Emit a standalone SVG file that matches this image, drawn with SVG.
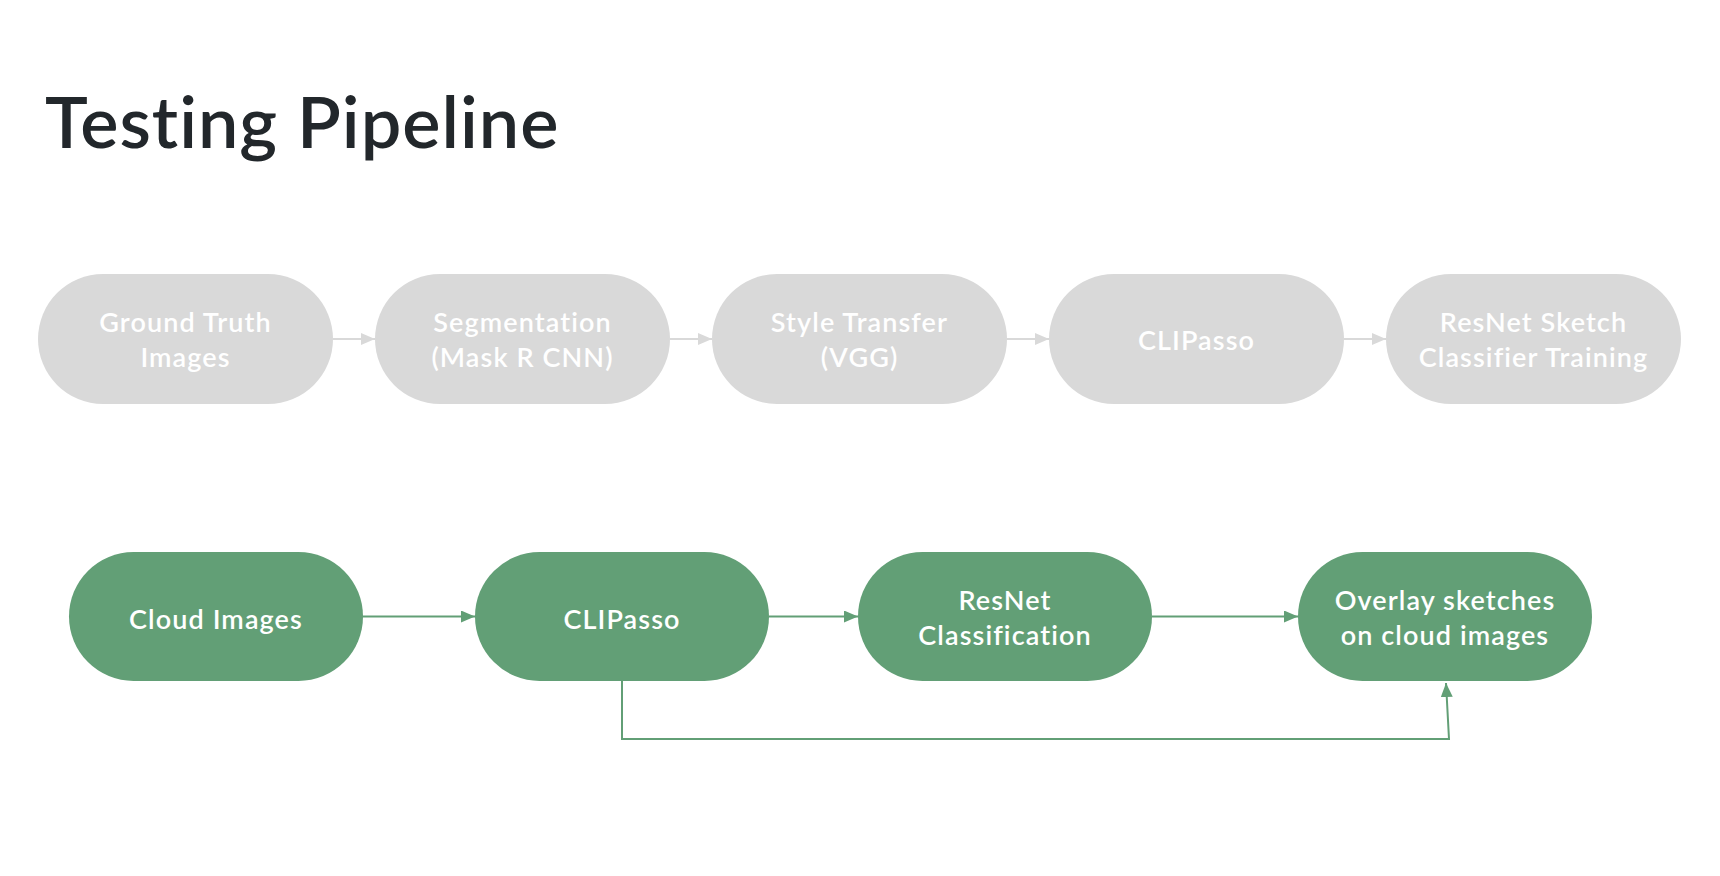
<svg xmlns="http://www.w3.org/2000/svg" width="1720" height="876" viewBox="0 0 1720 876">
<defs>
<style>
.title{font-family:Lato,"Open Sans","Liberation Sans",sans-serif;font-weight:600;font-size:72px;letter-spacing:1px;fill:#22272b;font-variant-ligatures:none}
.gnode rect{fill:#d9d9d9}
.pnode rect{fill:#629f76}
.lbl{font-family:Lato,"Open Sans","Liberation Sans",sans-serif;font-weight:600;font-size:27px;letter-spacing:1.1px;fill:#ffffff;text-anchor:middle;font-variant-ligatures:none}
.gc{stroke:#d9d9d9;stroke-width:2;fill:none}
.pc{stroke:#629f76;stroke-width:2;fill:none}
</style>
<marker id="ag" viewBox="0 0 10 10" refX="10" refY="5" markerWidth="14" markerHeight="12" markerUnits="userSpaceOnUse" orient="auto" preserveAspectRatio="none"><path d="M0,0 L10,5 L0,10 z" fill="#d9d9d9"/></marker>
<marker id="ap" viewBox="0 0 10 10" refX="10" refY="5" markerWidth="14" markerHeight="12" markerUnits="userSpaceOnUse" orient="auto" preserveAspectRatio="none"><path d="M0,0 L10,5 L0,10 z" fill="#629f76"/></marker>
</defs>
<rect width="1720" height="876" fill="#ffffff"/>
<text class="title" x="45" y="148">Testing Pipeline</text>

<g id="connectors">
<line class="gc" x1="333" y1="339" x2="375" y2="339" marker-end="url(#ag)"/>
<line class="gc" x1="670" y1="339" x2="712" y2="339" marker-end="url(#ag)"/>
<line class="gc" x1="1007" y1="339" x2="1049" y2="339" marker-end="url(#ag)"/>
<line class="gc" x1="1344" y1="339" x2="1386" y2="339" marker-end="url(#ag)"/>
<line class="pc" x1="363" y1="616.5" x2="475" y2="616.5" marker-end="url(#ap)"/>
<line class="pc" x1="769" y1="616.5" x2="858" y2="616.5" marker-end="url(#ap)"/>
<line class="pc" x1="1152" y1="616.5" x2="1298" y2="616.5" marker-end="url(#ap)"/>
<polyline class="pc" points="622,681 622,739 1449,739 1446,683" marker-end="url(#ap)"/>
</g>

<g id="n1" class="gnode"><rect x="38" y="274" width="295" height="130" rx="65"/><text class="lbl" x="185.5" y="332">Ground Truth</text><text class="lbl" x="185.5" y="367">Images</text></g>
<g id="n2" class="gnode"><rect x="375" y="274" width="295" height="130" rx="65"/><text class="lbl" x="522.5" y="332">Segmentation</text><text class="lbl" x="522.5" y="367">(Mask R CNN)</text></g>
<g id="n3" class="gnode"><rect x="712" y="274" width="295" height="130" rx="65"/><text class="lbl" x="859.5" y="332">Style Transfer</text><text class="lbl" x="859.5" y="367">(VGG)</text></g>
<g id="n4" class="gnode"><rect x="1049" y="274" width="295" height="130" rx="65"/><text class="lbl" x="1196.5" y="350">CLIPasso</text></g>
<g id="n5" class="gnode"><rect x="1386" y="274" width="295" height="130" rx="65"/><text class="lbl" x="1533.5" y="332">ResNet Sketch</text><text class="lbl" x="1533.5" y="367">Classifier Training</text></g>

<g id="p1" class="pnode"><rect x="69" y="552" width="294" height="129" rx="64.5"/><text class="lbl" x="216" y="629">Cloud Images</text></g>
<g id="p2" class="pnode"><rect x="475" y="552" width="294" height="129" rx="64.5"/><text class="lbl" x="622" y="629">CLIPasso</text></g>
<g id="p3" class="pnode"><rect x="858" y="552" width="294" height="129" rx="64.5"/><text class="lbl" x="1005" y="610">ResNet</text><text class="lbl" x="1005" y="645">Classification</text></g>
<g id="p4" class="pnode"><rect x="1298" y="552" width="294" height="129" rx="64.5"/><text class="lbl" x="1445" y="610">Overlay sketches</text><text class="lbl" x="1445" y="645">on cloud images</text></g>
</svg>
